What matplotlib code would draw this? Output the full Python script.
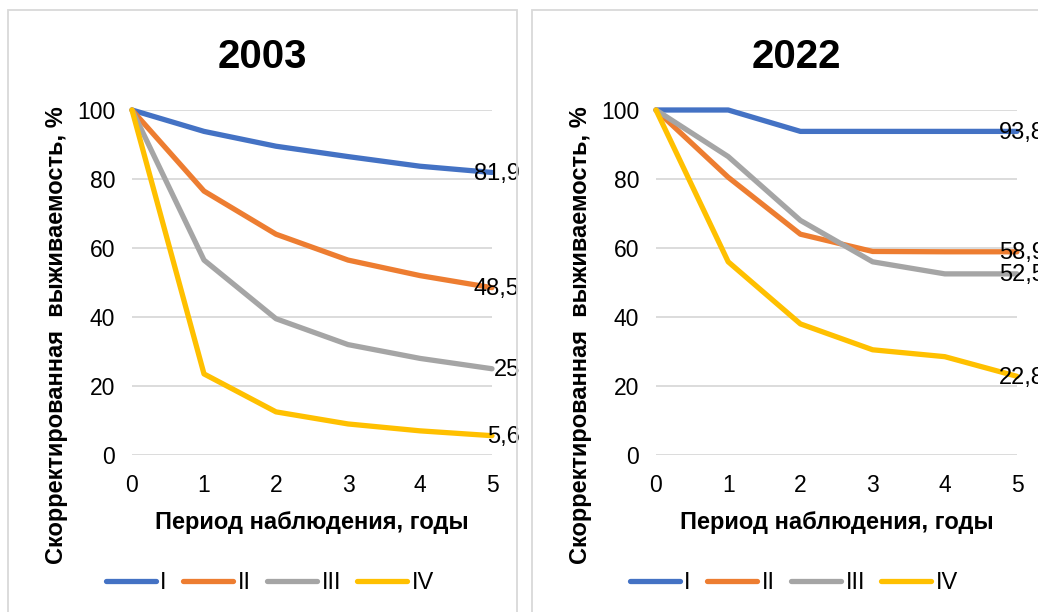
import matplotlib
matplotlib.use("Agg")
import matplotlib.pyplot as plt
from matplotlib.patches import Rectangle

plt.rcParams["font.family"] = ["Liberation Sans", "DejaVu Sans"]

YEARS = [0, 1, 2, 3, 4, 5]
GROUPS = ["I", "II", "III", "IV"]
COLORS = ["#4472C4", "#ED7D31", "#A5A5A5", "#FFC000"]

SURV_2003_I = [100, 93.8, 89.5, 86.5, 83.7, 81.9]
SURV_2003_II = [100, 76.5, 64.0, 56.5, 52.0, 48.5]
SURV_2003_III = [100, 56.5, 39.5, 32.0, 28.0, 25.0]
SURV_2003_IV = [100, 23.5, 12.5, 9.0, 7.0, 5.6]

SURV_2022_I = [100, 100, 93.8, 93.8, 93.8, 93.8]
SURV_2022_II = [100, 80.5, 64.0, 59.0, 58.9, 58.9]
SURV_2022_III = [100, 86.5, 68.0, 56.0, 52.5, 52.5]
SURV_2022_IV = [100, 56.0, 38.0, 30.5, 28.5, 22.8]

END_LABELS_2003 = ["81,9", "48,5", "25", "5,6"]
END_LABELS_2022 = ["93,8", "58,9", "52,5", "22,8"]

W, H = 1038, 612
fig = plt.figure(figsize=(W / 100, H / 100), dpi=100)


def px(x0, y0, x1, y1):
    # pixel box (top-left origin) -> figure fraction [l, b, w, h]
    return [x0 / W, 1 - y1 / H, (x1 - x0) / W, (y1 - y0) / H]


def panel(box, frame, title, series, labels):
    fig.patches.append(Rectangle((frame[0] / W, 1 - frame[3] / H),
                                 (frame[2] - frame[0]) / W,
                                 (frame[3] - frame[1]) / H,
                                 transform=fig.transFigure, fill=False,
                                 edgecolor="#D9D9D9", lw=1.3))
    ax = fig.add_axes(px(*box))
    for vals, col, name, lab in zip(series, COLORS, GROUPS, labels):
        ax.plot(YEARS, vals, color=col, lw=3.8, label=name,
                solid_capstyle="round", clip_on=False, zorder=3)
        ax.annotate(lab, (YEARS[-1], vals[-1]), xytext=(20, -1),
                    textcoords="offset points", ha="right", va="center",
                    fontsize=17, color="#000000", zorder=4,
                    annotation_clip=False)
    ax.set_xlim(0, 5)
    ax.set_ylim(0, 100)
    ax.set_xticks(YEARS)
    ax.set_yticks(range(0, 101, 20))
    for s in ax.spines.values():
        s.set_visible(False)
    ax.grid(axis="y", color="#D9D9D9", lw=1.3)
    ax.set_axisbelow(True)
    ax.tick_params(length=0, labelsize=16.5, colors="#000000")
    ax.tick_params(axis="y", pad=12)
    ax.tick_params(axis="x", pad=14)
    ax.set_xlabel("Период наблюдения, годы", fontsize=17,
                  fontweight="bold", labelpad=10)
    ax.set_ylabel("Скорректированная  выживаемость, %", fontsize=17,
                  fontweight="bold")
    ax.yaxis.set_label_coords(-(box[0] - frame[0] - 60) / (box[2] - box[0]),
                              (455 - 335) / 345)
    cx = (frame[0] + frame[2]) / 2
    fig.text(cx / W, 1 - 57 / H, title, fontsize=29, fontweight="bold",
             ha="center", va="center")
    legend_cx = frame[0] + 262
    ax.legend(loc="center", bbox_to_anchor=(legend_cx / W, 1 - 583 / H),
              bbox_transform=fig.transFigure, ncol=4, frameon=False,
              fontsize=17, handlelength=2.1, handletextpad=0.2,
              columnspacing=0.7)
    return ax


panel((132, 110, 492, 455), (8, 10, 517, 640), "2003",
      [SURV_2003_I, SURV_2003_II, SURV_2003_III, SURV_2003_IV],
      END_LABELS_2003)
panel((656, 110, 1017, 455), (532, 10, 1060, 640), "2022",
      [SURV_2022_I, SURV_2022_II, SURV_2022_III, SURV_2022_IV],
      END_LABELS_2022)

fig.savefig("out.png", dpi=100)
